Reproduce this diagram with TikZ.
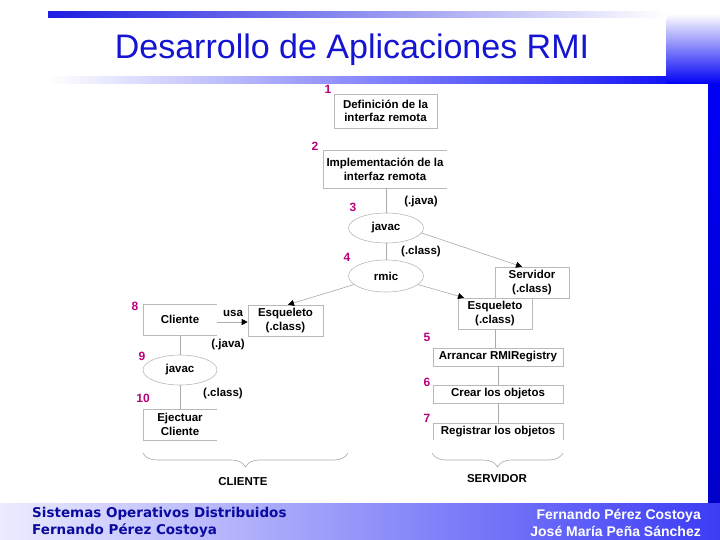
\documentclass[tikz,border=0pt]{standalone}
\usepackage{fontspec}
\setmainfont{Liberation Sans}
\newfontfamily\footfont{DejaVu Sans}
\usetikzlibrary{shapes.geometric,arrows.meta,decorations.pathreplacing}
\definecolor{numcol}{RGB}{185,0,125}
\definecolor{linecol}{RGB}{170,170,170}
\definecolor{boxcol}{RGB}{185,185,185}
\definecolor{titlecol}{RGB}{20,20,210}
\definecolor{footblue}{RGB}{10,10,160}
\definecolor{barblue}{RGB}{30,30,225}
\definecolor{stripblue}{RGB}{0,0,245}
\definecolor{stripdark}{RGB}{0,0,200}
\definecolor{footlight}{RGB}{236,236,255}
\definecolor{footdark}{RGB}{60,60,245}
\begin{document}
\begin{tikzpicture}[x=1pt,y=-1pt,
  lbl/.style={font=\bfseries\fontsize{11.5}{13.5}\selectfont, align=center, inner sep=0pt},
  boxn/.style={lbl, draw=boxcol, fill=white, line width=0.6pt},
  ell/.style={lbl, ellipse, draw=boxcol, line width=0.6pt},
  num/.style={font=\bfseries\fontsize{12}{13}\selectfont, text=numcol, inner sep=0pt},
  edgeb/.style={draw=boxcol, line width=0.6pt},
  conn/.style={draw=linecol, line width=0.6pt},
  arr/.style={conn, -{Triangle[color=black,length=6pt,width=6pt]}},
  brc/.style={draw=linecol, line width=0.6pt, decorate, decoration={brace, amplitude=14pt, mirror}},
  footl/.style={font=\footfont\bfseries\fontsize{13.5}{17}\selectfont, inner sep=0pt},
  footr/.style={font=\bfseries\fontsize{14}{17}\selectfont, inner sep=0pt},
]
% background and slide decoration
\useasboundingbox (0,0) rectangle (720,540);
\fill[white] (0,0) rectangle (720,540);
\shade[left color=barblue, right color=white] (48,12) rectangle (666,18);
\shade[left color=white, right color=stripblue] (48,77) rectangle (720,84);
\shade[top color=white, bottom color=stripblue] (666,14) rectangle (720,84);
\shade[top color=stripblue, bottom color=stripdark] (708,84) rectangle (720,503);
\shade[left color=footlight, right color=footdark] (0,503) rectangle (720,540);

% title
\node[font=\fontsize{34}{40}\selectfont, text=titlecol, inner sep=0pt] (title) at (352,50) {Desarrollo de Aplicaciones RMI};

% server-side chain
\node[boxn, minimum width=103pt, minimum height=34pt] (b1) at (385.5,111) {Definición de la\\interfaz remota};
\node[lbl, minimum width=124pt, minimum height=37pt] (b2) at (385,169.5) {Implementación de la\\interfaz remota};
\draw[edgeb] (b2.north east) -- (b2.north west) -- (b2.south west) -- (b2.south east);
\node[ell, minimum width=75pt, minimum height=30pt] (jv1) at (386,228) {javac};
\node[ell, minimum width=75pt, minimum height=32pt] (rmic) at (386,276) {rmic};
\node[boxn, minimum width=74pt, minimum height=31pt] (srv) at (532,282.5) {Servidor\\(.class)};
\node[boxn, minimum width=74pt, minimum height=31pt] (esqS) at (495,313.5) {Esqueleto\\(.class)};
\node[boxn, minimum width=130pt, minimum height=18pt] (arr) at (498,357) {Arrancar RMIRegistry};
\node[boxn, minimum width=130pt, minimum height=18pt] (cre) at (498,394) {Crear los objetos};
\node[lbl, minimum width=130pt, minimum height=17pt] (reg) at (498,431.5) {Registrar los objetos};
\draw[edgeb] (reg.south west) -- (reg.north west) -- (reg.north east) -- (reg.south east);

% client-side chain
\node[lbl, minimum width=74pt, minimum height=31pt] (cli) at (180,319.5) {Cliente};
\draw[edgeb] (cli.north east) -- (cli.north west) -- (cli.south west) -- (cli.south east);
\node[boxn, minimum width=75pt, minimum height=31pt] (esqC) at (285.5,320.5) {Esqueleto\\(.class)};
\node[ell, minimum width=74pt, minimum height=30pt] (jv2) at (180,370) {javac};
\node[lbl, minimum width=74pt, minimum height=31pt] (eje) at (180,424.5) {Ejectuar\\Cliente};
\draw[edgeb] (eje.north east) -- (eje.north west) -- (eje.south west) -- (eje.south east);

% connectors
\draw[conn] (b2.south -| jv1.north) -- (jv1.north);
\draw[conn] (jv1.south) -- (rmic.north);
\draw[arr] (jv1.-8) -- ([xshift=-10pt]srv.north);
\draw[arr] (rmic.-15) -- ([xshift=-31pt]esqS.north);
\draw[arr] (rmic.195) -- ([xshift=2.5pt]esqC.north);
\draw[arr] ([yshift=-2.5pt]cli.east) -- ([yshift=-2.5pt]cli.east -| esqC.west);
\draw[conn] (cli.south) -- (jv2.north);
\draw[conn] (jv2.south) -- (eje.north);
\draw[conn] (esqS.south) -- (esqS.south |- arr.north);
\draw[conn] (arr.south) -- (cre.north);
\draw[conn] (cre.south) -- (reg.north);

% edge labels
\node[lbl] (ja1) at (421,202) {(.java)};
\node[lbl] (cl1) at (421,252) {(.class)};
\node[lbl] (usa) at (233,313) {usa};
\node[lbl] (ja2) at (228,345) {(.java)};
\node[lbl] (cl2) at (223,394) {(.class)};

% step numbers
\node[num] (n1) at (328,89) {1};
\node[num] (n2) at (315,146) {2};
\node[num] (n3) at (353,207) {3};
\node[num] (n4) at (347,257) {4};
\node[num] (n5) at (427,337) {5};
\node[num] (n6) at (427,382) {6};
\node[num] (n7) at (427,418) {7};
\node[num] (n8) at (135,306) {8};
\node[num] (n9) at (142,356) {9};
\node[num] (n10) at (143,398) {10};

% braces
\coordinate (bcl) at (143,453);
\coordinate (bcr) at (348,453);
\coordinate (bsl) at (432,453);
\coordinate (bsr) at (563,453);
\draw[brc] (bcl) -- (bcr);
\draw[brc] (bsl) -- (bsr);
\node[lbl] (cliente) at (243,482) {CLIENTE};
\node[lbl] (servidor) at (497,479) {SERVIDOR};

% footer
\node[footl, text=footblue, anchor=west, align=left] (fl) at (32,522.5) {Sistemas Operativos Distribuidos\\Fernando Pérez Costoya};
\node[footr, text=white, anchor=east, align=right] (fr) at (701,522.5) {Fernando Pérez Costoya\\José María Peña Sánchez};
\end{tikzpicture}
\end{document}
